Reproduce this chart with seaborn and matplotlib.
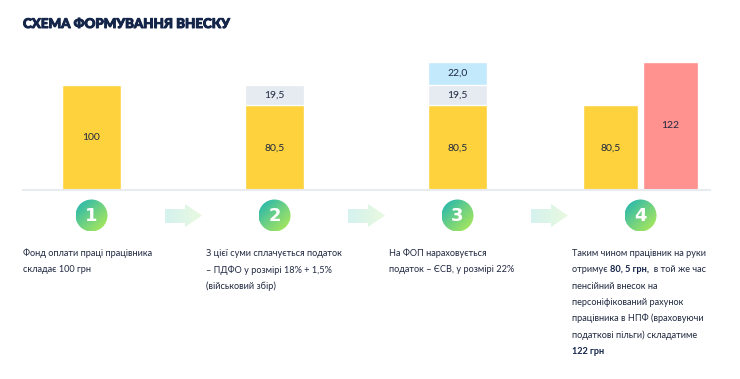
import numpy as np
import pandas as pd
import matplotlib.pyplot as plt
import seaborn as sns
import matplotlib.patheffects as pe
from matplotlib.patches import Circle, Polygon
from matplotlib.colors import LinearSegmentedColormap

# --- data -------------------------------------------------------------
steps = ["1", "2", "3", "4"]
base_pay = [100, 80.5, 80.5]        # yellow part, steps 1-3
pdfo_tax = [0, 19.5, 19.5]          # grey part (ПДФО + військовий збір)
esv_tax = [0, 0, 22.0]              # blue part (ЄСВ)
step4_kind = ["на руки", "внесок"]
step4_value = [80.5, 122]

title = "СХЕМА ФОРМУВАННЯ ВНЕСКУ"
captions = [
    ["Фонд оплати праці працівника", "складає 100 грн"],
    ["З цієї суми сплачується податок", "– ПДФО у розмірі 18% + 1,5%", "(військовий збір)"],
    ["На ФОП нараховується", "податок – ЄСВ, у розмірі 22%"],
]
caption4 = [
    [("Таким чином працівник на руки", "normal")],
    [("отримує ", "normal"), ("80, 5 грн,", "bold"), ("  в той же час", "normal")],
    [("пенсійний внесок на", "normal")],
    [("персоніфікований рахунок", "normal")],
    [("працівника в НПФ (враховуючи", "normal")],
    [("податкові пільги) складатиме", "normal")],
    [("122 грн", "bold")],
]

YELLOW = "#fdd23d"
GREY = "#e6ebf2"
BLUE = "#c2e9fc"
RED = "#ff918f"
NAVY = "#14254a"
INK = "#1f2840"

sns.set_theme(style="white")
plt.rcParams["font.family"] = ["Lato", "DejaVu Sans"]

fig = plt.figure(figsize=(7.4, 3.79), dpi=100)
W, H = 740, 379

# bar axes: baseline at y=190 px, 1.05 px per unit
ax = fig.add_axes([23 / W, (H - 190) / H, 687 / W, 147 / H])

df = pd.DataFrame({"step": steps[:3], "base": base_pay, "pdfo": pdfo_tax, "esv": esv_tax})
df["top_pdfo"] = df["base"] + df["pdfo"]
df["top_esv"] = df["top_pdfo"] + df["esv"]

# stacked bars: draw cumulative tops first, lower parts over them
layers = [("top_esv", "esv", BLUE), ("top_pdfo", "pdfo", GREY), ("base", "base", YELLOW)]
for col, part, color in layers:
    sub = df[df[part] > 0]
    sns.barplot(data=sub, x="step", y=col, order=steps, color=color,
                saturation=1, width=0.322, errorbar=None, ax=ax)

df4 = pd.DataFrame({"step": ["4", "4"], "kind": step4_kind, "value": step4_value})
sns.barplot(data=df4, x="step", y="value", hue="kind", order=steps,
            palette=[YELLOW, RED], saturation=1, width=0.655, gap=0.085,
            dodge=True, legend=False, errorbar=None, ax=ax)

def fmt(v):
    return f"{v:g}" if float(v).is_integer() else f"{v:.1f}".replace(".", ",")

for i, row in df.iterrows():
    bottom = 0
    for part in ["base", "pdfo", "esv"]:
        v = row[part]
        if v > 0:
            lab = f"{v:.1f}".replace(".", ",") if part == "esv" else fmt(v)
            ax.text(i, bottom + v / 2, lab, ha="center", va="center",
                    fontsize=7.5, color=INK)
        bottom += v

for cont, v in zip(ax.containers[-2:], step4_value):
    ax.bar_label(cont, labels=[fmt(v)], label_type="center", fontsize=7.5, color=INK)

ax.set_xlim(-0.374, 3.38)
ax.set_ylim(0, 140)
ax.set(xticks=[], yticks=[], xlabel="", ylabel="")
sns.despine(ax=ax, left=True)
ax.spines["bottom"].set_color("#e8ebf0")
ax.spines["bottom"].set_linewidth(1.5)

# --- overlay in pixel coordinates ------------------------------------
ov = fig.add_axes([0, 0, 1, 1])
ov.set_xlim(0, W)
ov.set_ylim(H, 0)
ov.axis("off")

fig.text(23 / W, 1 - 24 / H, title, fontsize=9.6, fontweight="black",
         color=NAVY, va="center", ha="left",
         path_effects=[pe.withStroke(linewidth=0.7, foreground=NAVY)])

circle_cmap = LinearSegmentedColormap.from_list("c", ["#19b2b6", "#6fd183", "#b2ec52"])
arrow_cmap = LinearSegmentedColormap.from_list("a", ["#d5f2ef", "#e8f9df"])
g = np.linspace(0, 1, 80)
GX, GY = np.meshgrid(g, g)

cy, r = 215.5, 16
for k in range(4):
    cx = 91.5 + 183 * k
    im = ov.imshow((GX + GY) / 2, extent=(cx - r, cx + r, cy + r, cy - r),
                   cmap=circle_cmap, aspect="auto", origin="upper", zorder=2)
    circ = Circle((cx, cy), r, facecolor="none", edgecolor="none")
    ov.add_patch(circ)
    im.set_clip_path(circ)
    ov.text(cx, cy + 0.5, steps[k], ha="center", va="center", color="white",
            fontsize=13, fontweight="heavy", zorder=3, family=["DejaVu Sans"])
    if k < 3:
        x0 = 165 + 183 * k
        pts = [(x0, 209), (x0 + 20, 209), (x0 + 20, 204), (x0 + 37, cy),
               (x0 + 20, 227), (x0 + 20, 223), (x0, 223)]
        poly = Polygon(pts, closed=True, facecolor="none", edgecolor="none")
        ov.add_patch(poly)
        ai = ov.imshow(GX, extent=(x0, x0 + 37, 227, 204), cmap=arrow_cmap,
                       aspect="auto", origin="upper", zorder=2)
        ai.set_clip_path(poly)

ov.set_xlim(0, W)
ov.set_ylim(H, 0)

line_h = 16.3
y0 = 253.5
text_x = [23, 206, 389]
for x, lines in zip(text_x, captions):
    for j, line in enumerate(lines):
        ov.text(x, y0 + j * line_h, line, ha="left", va="center",
                fontsize=6.6, color=INK)

renderer = fig.canvas.get_renderer()
for j, parts in enumerate(caption4):
    x = 572
    for txt, wt in parts:
        t = ov.text(x, y0 + j * line_h, txt, ha="left", va="center",
                    fontsize=6.6, color=NAVY if wt == "bold" else INK,
                    fontweight=wt)
        bb = t.get_window_extent(renderer=renderer)
        x += bb.width * W / fig.bbox.width

fig.savefig("out.png", dpi=100)
